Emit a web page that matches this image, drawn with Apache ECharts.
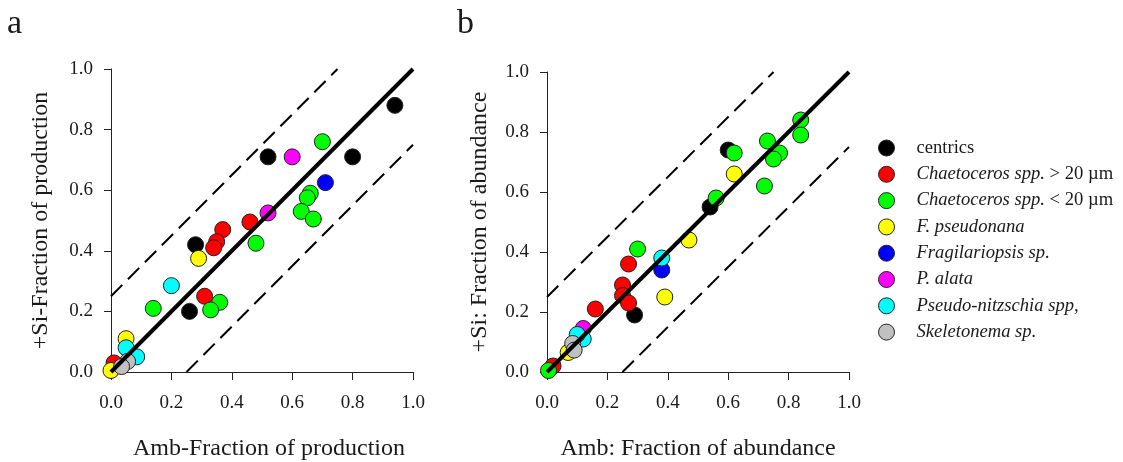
<!DOCTYPE html>
<html><head><meta charset="utf-8">
<script src="https://cdn.jsdelivr.net/npm/echarts@6/dist/echarts.min.js"></script>
<style>html,body{margin:0;padding:0;background:#fff}#c{width:1123px;height:462px}</style>
</head><body><div id="c"></div>
<script>
// ---- data ----
const tickLabels = ['0.0', '0.2', '0.4', '0.6', '0.8', '1.0'];
const speciesNames = ['centrics', 'Chaetoceros spp. > 20 µm', 'Chaetoceros spp. < 20 µm', 'F. pseudonana', 'Fragilariopsis sp.', 'P. alata', 'Pseudo-nitzschia spp,', 'Skeletonema sp.'];

// panel a: [Amb fraction of production, +Si fraction of production]
const prodCentrics = [[0.94, 0.88], [0.80, 0.71], [0.52, 0.71], [0.28, 0.42], [0.26, 0.20]];
const prodChaetoLarge = [[0.46, 0.495], [0.37, 0.47], [0.35, 0.43], [0.34, 0.41], [0.31, 0.25], [0.01, 0.03]];
const prodChaetoSmall = [[0.70, 0.76], [0.66, 0.59], [0.65, 0.575], [0.63, 0.53], [0.67, 0.505], [0.48, 0.425], [0.36, 0.23], [0.33, 0.205], [0.14, 0.21]];
const prodFPseudonana = [[0.29, 0.375], [0.05, 0.11], [0.0, 0.005]];
const prodFragilariopsis = [[0.71, 0.625]];
const prodPAlata = [[0.60, 0.71], [0.52, 0.525]];
const prodPseudoNitzschia = [[0.20, 0.285], [0.05, 0.08], [0.085, 0.05]];
const prodSkeletonema = [[0.055, 0.035], [0.035, 0.018]];

// panel b: [Amb fraction of abundance, +Si fraction of abundance]
const abunCentrics = [[0.60, 0.74], [0.54, 0.55], [0.29, 0.19]];
const abunChaetoLarge = [[0.27, 0.36], [0.25, 0.29], [0.25, 0.255], [0.27, 0.23], [0.16, 0.21], [0.02, 0.02]];
const abunChaetoSmall = [[0.84, 0.84], [0.84, 0.79], [0.73, 0.77], [0.62, 0.73], [0.77, 0.73], [0.75, 0.71], [0.72, 0.62], [0.56, 0.58], [0.30, 0.41], [0.005, 0.005]];
const abunFPseudonana = [[0.62, 0.66], [0.47, 0.44], [0.39, 0.25], [0.07, 0.065]];
const abunFragilariopsis = [[0.38, 0.34]];
const abunPAlata = [[0.12, 0.145]];
const abunPseudoNitzschia = [[0.38, 0.38], [0.12, 0.11], [0.10, 0.125]];
const abunSkeletonema = [[0.085, 0.095], [0.09, 0.073]];

// reference lines: 1:1 and ±0.25
const oneToOne = [[0, 0], [1, 1]];
const upperBand = [[0, 0.25], [0.75, 1]];
const lowerBand = [[0.25, 0], [1, 0.75]];

// ---- styles ----
const speciesColors = ['#000000', '#ff0000', '#00ff00', '#ffff00', '#0000ff', '#ff00ff', '#00ffff', '#c0c0c0'];
const FONT = '"Liberation Serif", "Times New Roman", serif';
const TXT = '#1a1a1a';

const prodData = [prodCentrics, prodChaetoLarge, prodChaetoSmall, prodFPseudonana, prodFragilariopsis, prodPAlata, prodPseudoNitzschia, prodSkeletonema];
const abunData = [abunCentrics, abunChaetoLarge, abunChaetoSmall, abunFPseudonana, abunFragilariopsis, abunPAlata, abunPseudoNitzschia, abunSkeletonema];

function axisX(gridIndex, name, namePad) {
  return {
    type: 'value', gridIndex, min: 0, max: 1, interval: 0.2,
    name, nameLocation: 'middle', nameGap: 65,
    nameTextStyle: { fontFamily: FONT, fontSize: 24, color: TXT, padding: namePad },
    axisLine: { show: true, onZero: false, lineStyle: { color: '#222', width: 1 } },
    axisTick: { show: true, inside: false, length: 8, lineStyle: { color: '#222', width: 1 } },
    axisLabel: { fontFamily: FONT, fontSize: 19, color: TXT, margin: 22,
      formatter: v => tickLabels[Math.round(v / 0.2)] },
    splitLine: { show: false }
  };
}
function axisY(gridIndex, name, gap) {
  return {
    type: 'value', gridIndex, min: 0, max: 1, interval: 0.2,
    name, nameLocation: 'middle', nameGap: gap,
    nameTextStyle: { fontFamily: FONT, fontSize: 24, color: TXT },
    axisLine: { show: true, onZero: false, lineStyle: { color: '#222', width: 1 } },
    axisTick: { show: true, inside: false, length: 7, lineStyle: { color: '#222', width: 1 } },
    axisLabel: { fontFamily: FONT, fontSize: 19, color: TXT, margin: 18,
      formatter: v => tickLabels[Math.round(v / 0.2)] },
    splitLine: { show: false }
  };
}

const series = [];
[prodData, abunData].forEach((panel, gi) => {
  panel.forEach((d, si) => {
    series.push({
      type: 'scatter', name: speciesNames[si], xAxisIndex: gi, yAxisIndex: gi,
      data: d, symbol: 'circle', symbolSize: 16, z: 2,
      itemStyle: { color: speciesColors[si], borderColor: '#222', borderWidth: 1, opacity: 1 },
      emphasis: { disabled: true }
    });
  });
  series.push({ type: 'line', name: 'ref', xAxisIndex: gi, yAxisIndex: gi, data: oneToOne,
    symbol: 'none', silent: true, z: 5, lineStyle: { color: '#000', width: 4 } });
  [upperBand, lowerBand].forEach(b => series.push({ type: 'line', name: 'band', xAxisIndex: gi, yAxisIndex: gi, data: b,
    symbol: 'none', silent: true, z: 5, lineStyle: { color: '#000', width: 2, type: [16, 8] } }));
});

const chart = echarts.init(document.getElementById('c'), null, { renderer: 'canvas' });
chart.setOption({
  animation: false,
  backgroundColor: '#ffffff',
  title: [
    { text: 'a', left: 7, top: 7, padding: 0, textStyle: { fontFamily: FONT, fontSize: 34, fontWeight: 'normal', color: TXT } },
    { text: 'b', left: 457, top: 7, padding: 0, textStyle: { fontFamily: FONT, fontSize: 34, fontWeight: 'normal', color: TXT } }
  ],
  grid: [
    { left: 111, top: 69, width: 302, height: 303, outerBoundsMode: 'none', containLabel: false },
    { left: 547, top: 72, width: 302, height: 300, outerBoundsMode: 'none', containLabel: false }
  ],
  xAxis: [axisX(0, 'Amb-Fraction of production', [0, 0, 0, 14]), axisX(1, 'Amb: Fraction of abundance', 0)],
  yAxis: [axisY(0, '+Si-Fraction of production', 58), axisY(1, '+Si: Fraction of abundance', 55)],
  legend: {
    data: speciesNames.map(n => ({ name: n, icon: 'circle' })),
    orient: 'vertical', left: 878, top: 138, padding: 0,
    itemWidth: 16, itemHeight: 16, itemGap: 6.3,
    selectedMode: false,
    itemStyle: { borderColor: '#222', borderWidth: 1 },
    textStyle: {
      fontFamily: FONT, fontSize: 18.6, color: TXT, lineHeight: 20, padding: [0, 0, 0, 17],
      rich: {
        i: { fontFamily: FONT, fontSize: 18.6, fontStyle: 'italic', color: TXT, lineHeight: 20 },
        n: { fontFamily: FONT, fontSize: 18.6, color: TXT, lineHeight: 20 }
      }
    },
    formatter: function (name) {
      if (name === 'centrics') return '{n|centrics}';
      const m = name.match(/^(Chaetoceros spp\.)(.*)$/);
      if (m) return '{i|' + m[1] + '}{n|' + m[2] + '}';
      return '{i|' + name + '}';
    }
  },
  series
});
</script></body></html>
